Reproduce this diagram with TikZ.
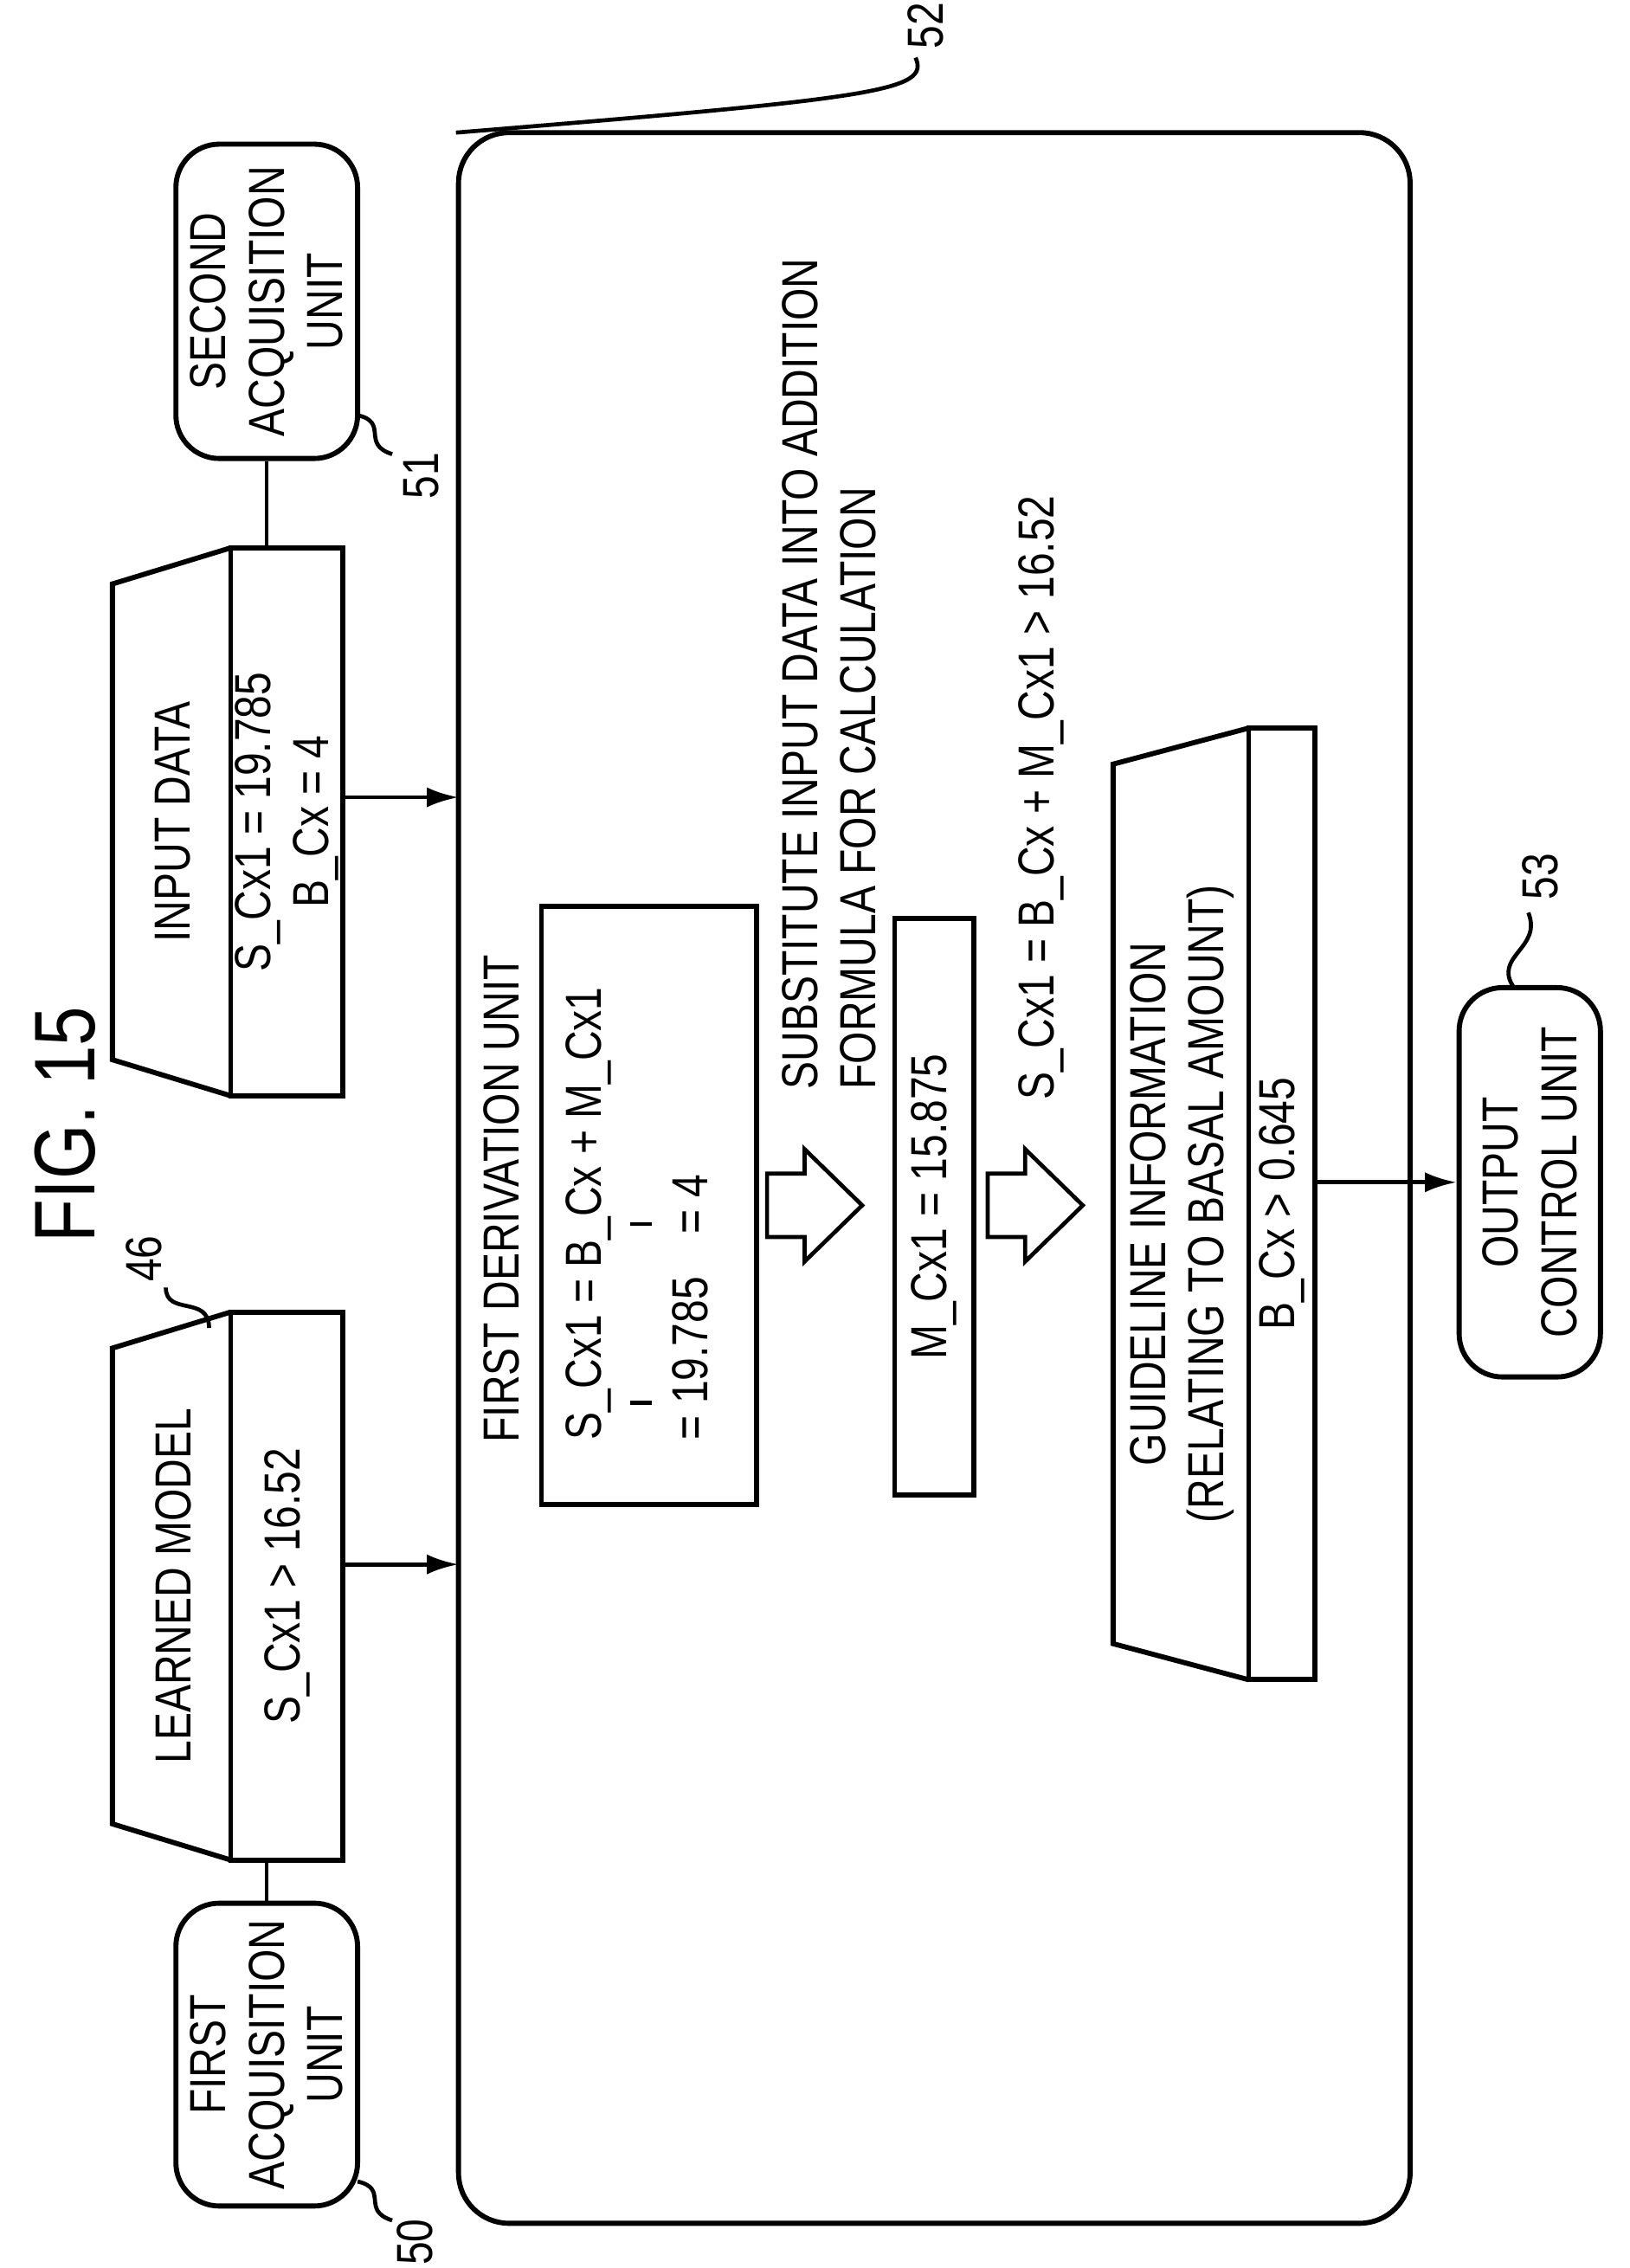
\documentclass[tikz,border=0pt]{standalone}
\usepackage{fontspec}
\setmainfont{Liberation Sans}[FakeStretch=0.82]
\usetikzlibrary{arrows.meta}

\begin{document}
\begin{tikzpicture}[rotate=90, transform shape,
  font=\fontsize{10}{11.5}\selectfont,
  unit/.style={draw, line width=1pt, rounded corners=0.3cm, align=center, inner sep=0pt},
  plain/.style={draw, line width=1pt, align=center, inner sep=0pt},
  flow/.style={line width=0.8pt, -{Latex[length=0.22cm, width=0.14cm]}},
  link/.style={line width=0.8pt}]
  \useasboundingbox (0,0) rectangle (15.73,-11.3);

  % Title
  \node[font=\fontsize{17}{19}\selectfont] (title) at (7.93,-0.45) {FIG. 15};

  % Acquisition units
  \node[unit, minimum width=2.1cm, minimum height=1.26cm] (acqA) at (1.48,-1.85) {FIRST\\ACQUISITION\\UNIT};
  \node[unit, minimum width=2.18cm, minimum height=1.26cm] (acqB) at (13.64,-1.85) {SECOND\\ACQUISITION\\UNIT};

  % Learned model
  \node[plain, minimum width=3.8cm, minimum height=0.78cm] (lmBody) at (4.73,-1.99) {S\_Cx1 \textgreater\ 16.52};
  \draw[line width=1pt] (2.83,-1.6) -- (3.08,-0.78) -- (6.38,-0.78) -- (6.63,-1.6);
  \node (lmHead) at (4.73,-1.2) {LEARNED MODEL};

  % Input data
  \node[plain, minimum width=3.8cm, minimum height=0.78cm] (inBody) at (10.03,-1.99) {S\_Cx1 = 19.785\\B\_Cx = 4};
  \draw[line width=1pt] (8.13,-1.6) -- (8.38,-0.78) -- (11.68,-0.78) -- (11.93,-1.6);
  \node (inHead) at (10.03,-1.2) {INPUT DATA};

  % Derivation part 52
  \node[unit, rounded corners=0.35cm, minimum width=14.5cm, minimum height=6.6cm] (deriv) at (7.56,-6.48) {};
  \node[anchor=west] (derivTitle) at (5.6,-3.48) {FIRST DERIVATION UNIT};
  \node[plain, minimum width=4.15cm, minimum height=1.49cm] (formula) at (7.37,-4.5) {};
  \node[anchor=west] (eqTop) at (5.62,-4.08) {S\_Cx1 = B\_Cx + M\_Cx1};
  \draw[link] (6.0,-4.37) -- (6.0,-4.52);
  \draw[link] (7.24,-4.37) -- (7.24,-4.52);
  \node[anchor=west] (eqVal) at (5.62,-4.79) {= 19.785};
  \node[anchor=west] (eqB) at (7.05,-4.79) {= 4};

  \draw[line width=0.8pt] (7.15,-5.32) -- (7.59,-5.32) -- (7.59,-5.58) -- (7.76,-5.58) -- (7.37,-5.98)
    -- (6.98,-5.58) -- (7.15,-5.58) -- cycle;
  \node[anchor=north west, align=left] (subst) at (8.05,-5.3) {SUBSTITUTE INPUT DATA INTO ADDITION\\FORMULA FOR CALCULATION};

  \node[plain, minimum width=4cm, minimum height=0.55cm] (mVal) at (7.36,-6.48) {M\_Cx1 = 15.875};

  \draw[line width=0.8pt] (7.15,-6.85) -- (7.59,-6.85) -- (7.59,-7.11) -- (7.76,-7.11) -- (7.37,-7.51)
    -- (6.98,-7.11) -- (7.15,-7.11) -- cycle;
  \node[anchor=west] (check) at (7.98,-7.22) {S\_Cx1 = B\_Cx + M\_Cx1 \textgreater\ 16.52};

  % Guideline information
  \node[plain, minimum width=6.6cm, minimum height=0.46cm] (glBody) at (7.38,-8.89) {B\_Cx \textgreater\ 0.645};
  \draw[line width=1pt] (4.08,-8.66) -- (4.33,-7.72) -- (10.43,-7.72) -- (10.68,-8.66);
  \node[align=center] (glHead) at (7.38,-8.2) {GUIDELINE INFORMATION\\(RELATING TO BASAL AMOUNT)};

  % Output
  \node[unit, minimum width=2.7cm, minimum height=0.98cm] (out) at (7.53,-10.61) {OUTPUT\\CONTROL UNIT};

  % Connectors
  \draw[link] (acqA.east) -- (acqA.east -| lmBody.west);
  \draw[link] (acqB.west) -- (acqB.west -| inBody.east);
  \draw[flow] (lmBody.south -| 4.88,0) -- (4.88,-3.18);
  \draw[flow] (inBody.south -| 10.2,0) -- (10.2,-3.18);
  \draw[flow] (glBody.south -| out.north) -- (out.north);

  % Reference numerals
  \node (n50) at (0.18,-2.88) {50};
  \draw[link] (0.6,-2.48) .. controls (0.55,-2.7) and (0.4,-2.5) .. (0.33,-2.72);
  \node (n46) at (7.0,-1.0) {46};
  \draw[link] (6.52,-1.45) .. controls (6.75,-1.45) and (6.6,-1.15) .. (6.8,-1.15);
  \node (n51) at (12.43,-2.92) {51};
  \draw[link] (12.85,-2.48) .. controls (12.8,-2.7) and (12.65,-2.5) .. (12.58,-2.72);
  \node (n52) at (15.55,-6.42) {52};
  \draw[link] (deriv.north -| 14.81,-6.25) .. controls (15.05,-6.1) and (15.1,-6.45) .. (15.33,-6.35);
  \node (n53) at (9.65,-10.68) {53};
  \draw[link] (8.88,-10.5) .. controls (9.1,-10.35) and (9.15,-10.7) .. (9.4,-10.6);
\end{tikzpicture}
\end{document}
